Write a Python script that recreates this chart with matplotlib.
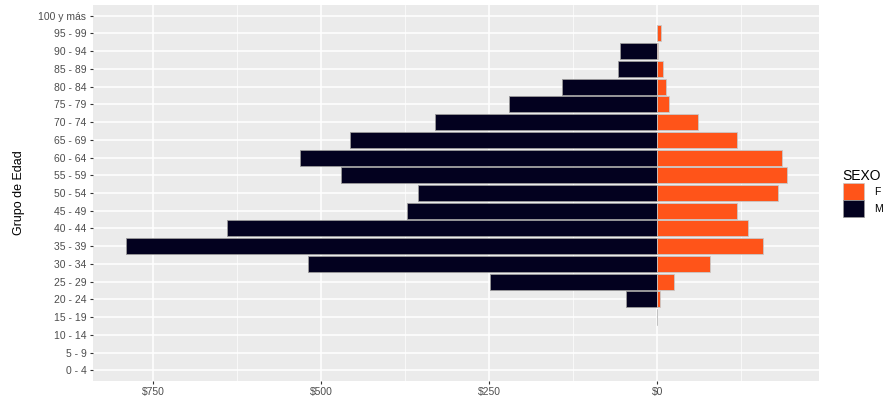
import numpy as np
import matplotlib.pyplot as plt
from matplotlib.patches import Patch

# age groups, bottom to top
grupos = ["0 - 4", "5 - 9", "10 - 14", "15 - 19", "20 - 24", "25 - 29", "30 - 34",
          "35 - 39", "40 - 44", "45 - 49", "50 - 54", "55 - 59", "60 - 64", "65 - 69",
          "70 - 74", "75 - 79", "80 - 84", "85 - 89", "90 - 94", "95 - 99", "100 y más"]

# NaN = no bar in the data
mujeres = [np.nan, np.nan, np.nan, 0, 4, 25, 78, 157, 135, 118, 179, 193, 186, 119,
           61, 18, 13, 9, 1, 6, np.nan]
hombres = [np.nan, np.nan, np.nan, 0, 47, 249, 519, 790, 640, 372, 356, 470, 531, 457,
           331, 220, 142, 58, 55, np.nan, np.nan]

col_f = '#FF5419'
col_m = '#03011F'

plt.rcParams['font.family'] = ['Liberation Sans', 'DejaVu Sans']

fig = plt.figure(figsize=(8.85, 3.98), dpi=100)
ax = fig.add_axes([0.1047, 0.0427, 0.8211, 0.9447])
ax.set_facecolor('#EBEBEB')

y = np.arange(len(grupos))
f = np.array(mujeres, dtype=float)
m = -np.array(hombres, dtype=float)
okf = ~np.isnan(f)
okm = ~np.isnan(m)

ax.barh(y[okm], m[okm], height=0.9, color=col_m, edgecolor='#9a9a9a', linewidth=0.6, zorder=3)
ax.barh(y[okf], f[okf], height=0.9, color=col_f, edgecolor='#c8c8c8', linewidth=0.6, zorder=3)

ax.set_xlim(-840, 241)
ax.set_ylim(-0.6, len(grupos) - 0.4)

ax.set_xticks([-750, -500, -250, 0])
ax.set_xticklabels(['$750', '$500', '$250', '$0'])
ax.set_xticks([-625, -375, -125, 125], minor=True)
ax.set_yticks(y)
ax.set_yticklabels(grupos)

ax.grid(which='major', color='white', linewidth=1.1, zorder=0)
ax.grid(which='minor', axis='x', color='white', linewidth=0.5, zorder=0)
ax.set_axisbelow(True)
for s in ax.spines.values():
    s.set_visible(False)
ax.tick_params(which='major', length=2.5, color='#333333', labelcolor='#4D4D4D',
               labelsize=7.5, pad=2)
ax.tick_params(which='minor', length=0)

ax.set_ylabel('Grupo de Edad', fontsize=9, color='black', labelpad=10)

# legend
handles = [Patch(facecolor=col_f, edgecolor='#c8c8c8', linewidth=0.5, label='F'),
           Patch(facecolor=col_m, edgecolor='#9a9a9a', linewidth=0.5, label='M')]
leg = fig.legend(handles=handles, title='SEXO', loc='center left',
                 bbox_to_anchor=(0.952, 0.515), frameon=False, fontsize=7.5,
                 title_fontsize=10, handlelength=2.1, handleheight=2.2,
                 handletextpad=0.9, labelspacing=0.0, borderaxespad=0, borderpad=0)
leg._legend_box.align = 'left'

fig.savefig('out.png', dpi=100)
